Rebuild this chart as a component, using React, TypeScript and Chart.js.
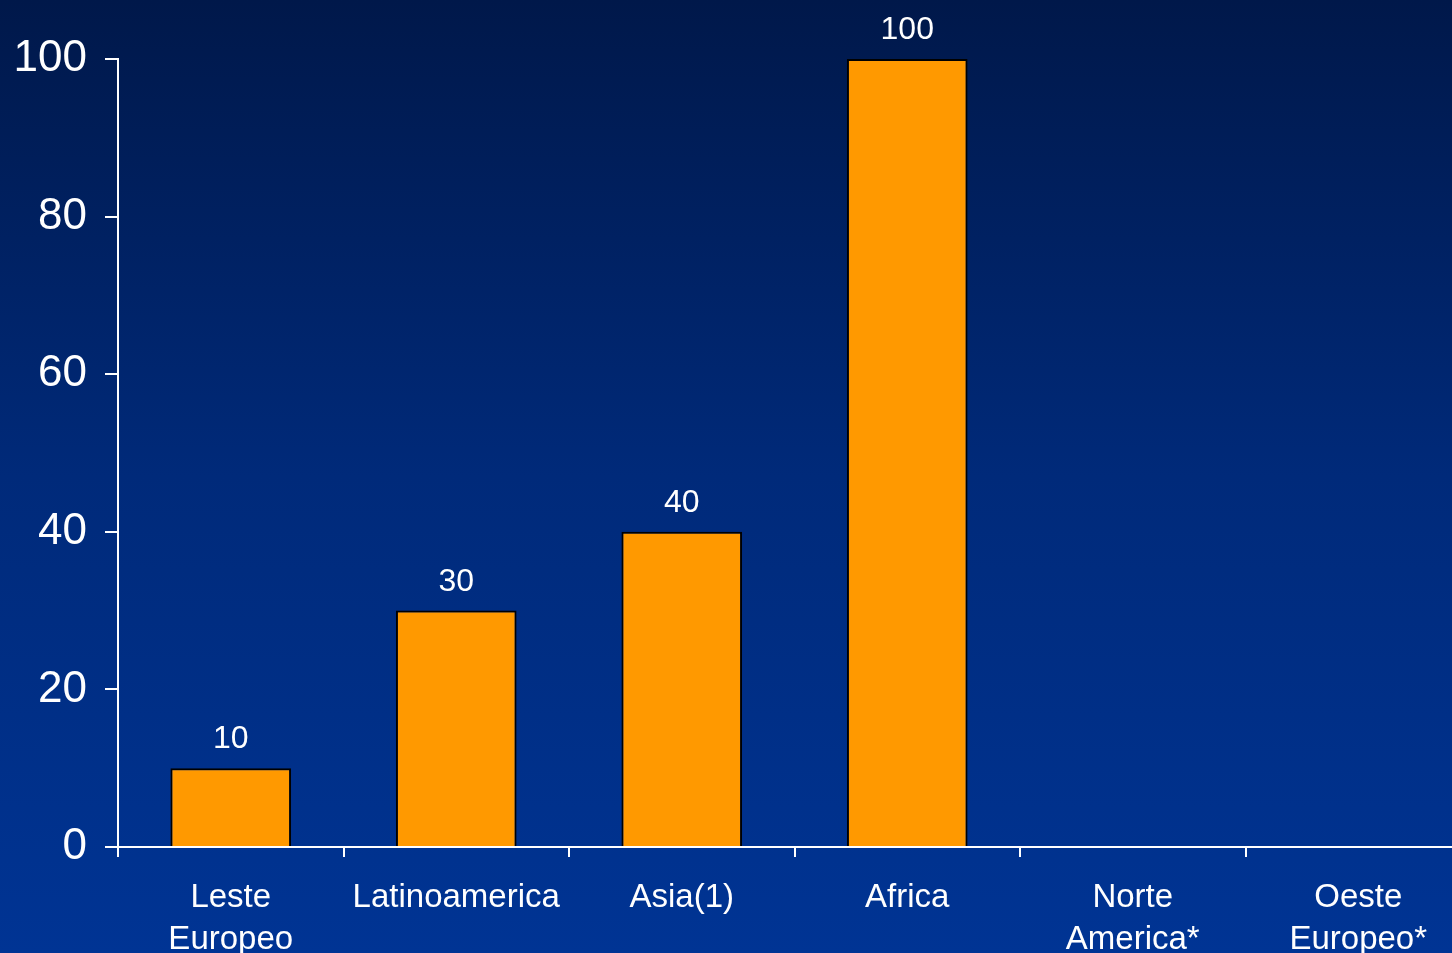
import React, { useEffect, useRef } from "react";
import { Chart, registerables } from "chart.js";

Chart.register(...registerables);

const categories: (string | string[])[] = [
  ["Leste", "Europeo"],
  "Latinoamerica",
  "Asia(1)",
  "Africa",
  ["Norte", "America*"],
  ["Oeste", "Europeo*"],
];
const values: (number | null)[] = [10, 30, 40, 100, null, null];
const yMin = 0;
const yMax = 100;
const yStep = 20;

const FONT = "'Liberation Sans', Arial, sans-serif";

const dataLabels = {
  id: "dataLabels",
  afterDatasetsDraw(chart: any) {
    const ctx = chart.ctx;
    const meta = chart.getDatasetMeta(0);
    ctx.save();
    ctx.fillStyle = "#ffffff";
    ctx.font = `32px ${FONT}`;
    ctx.textAlign = "center";
    ctx.textBaseline = "alphabetic";
    meta.data.forEach((bar: any, i: number) => {
      const v = values[i];
      if (v === null || v === undefined) return;
      ctx.fillText(String(v), bar.x, bar.y - 20);
    });
    ctx.restore();
  },
};

export default function App() {
  const ref = useRef<HTMLCanvasElement | null>(null);
  useEffect(() => {
    if (!ref.current) return;
    const chart = new Chart(ref.current, {
      type: "bar",
      data: {
        labels: categories,
        datasets: [
          {
            data: values,
            backgroundColor: "#ff9900",
            borderColor: "#000000",
            borderWidth: 2,
            barPercentage: 0.535,
            categoryPercentage: 1,
          },
        ],
      },
      options: {
        responsive: false,
        devicePixelRatio: 1,
        animation: false,
        layout: { padding: { top: 59, left: 0, right: 0, bottom: 0 } },
        plugins: { legend: { display: false }, tooltip: { enabled: false }, title: { display: false } },
        scales: {
          x: {
            grid: { display: true, drawOnChartArea: false, drawTicks: true, tickLength: 10, color: "#ffffff", lineWidth: 2 },
            border: { display: true, color: "#ffffff", width: 2 },
            ticks: { color: "#ffffff", font: { family: FONT, size: 33, lineHeight: 1.3 }, padding: 19, maxRotation: 0, autoSkip: false },
            afterFit(scale: any) {
              scale.height = 106;
            },
          },
          y: {
            min: yMin,
            max: yMax,
            grid: { display: true, drawOnChartArea: false, drawTicks: true, tickLength: 13, color: "#ffffff", lineWidth: 2 },
            border: { display: true, color: "#ffffff", width: 2 },
            ticks: { stepSize: yStep, color: "#ffffff", font: { family: FONT, size: 44 }, padding: 18 },
            afterFit(scale: any) {
              scale.width = 118;
            },
          },
        },
      },
      plugins: [dataLabels],
    });
    return () => chart.destroy();
  }, []);

  return (
    <div
      style={{
        position: "fixed",
        left: 0,
        top: 0,
        width: 1452,
        height: 953,
        overflow: "hidden",
        background: "linear-gradient(to bottom, #00184a 0%, #002a7a 50%, #003494 100%)",
      }}
    >
      <canvas
        ref={ref}
        width={1471}
        height={953}
        style={{ position: "absolute", left: 0, top: 0, width: 1471, height: 953 }}
      />
    </div>
  );
}
